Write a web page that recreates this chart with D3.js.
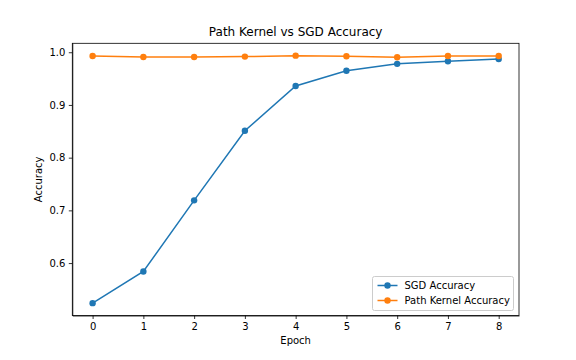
<!DOCTYPE html>
<meta charset="utf-8">
<style>
body { margin: 0; background: #fff; }
text { font-family: "DejaVu Sans", sans-serif; fill: #000; }
.axis path, .axis line { stroke: #000; stroke-width: 0.8; }
.axis text { font-size: 10px; }
</style>
<body>
<script src="https://cdn.jsdelivr.net/npm/d3@7"></script>
<script>
// data
var epochs = [0, 1, 2, 3, 4, 5, 6, 7, 8];
var sgdAcc = [0.524, 0.584, 0.719, 0.851, 0.936, 0.965, 0.978, 0.983, 0.987];
var pkAcc = [0.993, 0.991, 0.991, 0.9917, 0.9935, 0.9925, 0.9905, 0.993, 0.993];
var yTicks = [0.6, 0.7, 0.8, 0.9, 1.0];
var seriesNames = ["SGD Accuracy", "Path Kernel Accuracy"];
var colors = ["#1f77b4", "#ff7f0e"];

var W = 576, H = 360;
var margin = {top: 43.3, right: 57, bottom: 44.5, left: 72.3},
    width = W - margin.left - margin.right,
    height = H - margin.top - margin.bottom;

var svg = d3.select("body").append("svg")
    .attr("width", W)
    .attr("height", H);

var g = svg.append("g")
    .attr("transform", "translate(" + margin.left + "," + margin.top + ")");

var x = d3.scaleLinear().domain([-0.4, 8.4]).range([0, width]);
var all = sgdAcc.concat(pkAcc);
var lo = d3.min(all), hi = d3.max(all), pad = (hi - lo) * 0.05;
var y = d3.scaleLinear().domain([lo - pad, hi + pad]).range([height, 0]);

// axes
g.append("g")
    .attr("class", "axis")
    .attr("transform", "translate(0," + height + ")")
    .call(d3.axisBottom(x).tickValues(epochs).tickSizeInner(3.5).tickSizeOuter(0).tickPadding(3.5).tickFormat(d3.format("d")));
g.append("g")
    .attr("class", "axis")
    .call(d3.axisLeft(y).tickValues(yTicks).tickSizeInner(3.5).tickSizeOuter(0).tickPadding(3.5).tickFormat(d3.format(".1f")));

// frame
g.append("rect")
    .attr("width", width).attr("height", height)
    .attr("fill", "none").attr("stroke", "#000").attr("stroke-width", 0.8);

var series = [sgdAcc, pkAcc];
var line = d3.line()
    .x(function(d, i) { return x(epochs[i]); })
    .y(function(d) { return y(d); });

series.forEach(function(s, k) {
  g.append("path")
      .datum(s)
      .attr("fill", "none")
      .attr("stroke", colors[k])
      .attr("stroke-width", 1.5)
      .attr("d", line);
  g.selectAll(".pt" + k)
      .data(s)
    .enter().append("circle")
      .attr("cx", function(d, i) { return x(epochs[i]); })
      .attr("cy", function(d) { return y(d); })
      .attr("r", 3.2)
      .attr("fill", colors[k]);
});

// title & labels
svg.append("text")
    .attr("x", margin.left + width / 2).attr("y", margin.top - 7)
    .attr("text-anchor", "middle").style("font-size", "12px")
    .text("Path Kernel vs SGD Accuracy");
svg.append("text")
    .attr("x", margin.left + width / 2).attr("y", H - 16)
    .attr("text-anchor", "middle").style("font-size", "10px")
    .text("Epoch");
svg.append("text")
    .attr("transform", "translate(" + 42 + "," + (margin.top + height / 2) + ") rotate(-90)")
    .attr("text-anchor", "middle").style("font-size", "10px")
    .text("Accuracy");

// legend
var lg = svg.append("g").attr("transform", "translate(372.5,276.5)");
lg.append("rect")
    .attr("width", 141).attr("height", 34).attr("rx", 2)
    .attr("fill", "#fff").attr("fill-opacity", 0.8)
    .attr("stroke", "#ccc").attr("stroke-width", 1);
seriesNames.forEach(function(name, k) {
  var yy = 9 + k * 15;
  lg.append("line")
      .attr("x1", 5).attr("x2", 25).attr("y1", yy).attr("y2", yy)
      .attr("stroke", colors[k]).attr("stroke-width", 1.5);
  lg.append("circle").attr("cx", 15).attr("cy", yy).attr("r", 3.2).attr("fill", colors[k]);
  lg.append("text")
      .attr("x", 32).attr("y", yy + 3.5)
      .style("font-size", "10px")
      .text(name);
});
</script>
</body>
